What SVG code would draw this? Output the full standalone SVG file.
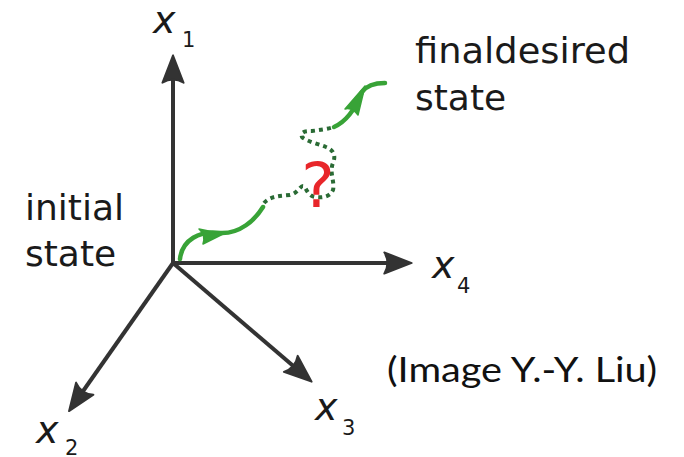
<svg xmlns="http://www.w3.org/2000/svg" width="684" height="457" viewBox="0 0 684 457">
<style>
.axis{stroke:#333333;stroke-width:4;fill:none;stroke-linecap:butt}
.lbl{font-family:"DejaVu Sans",sans-serif;font-size:36px;fill:#1a1a1a}
.var{font-family:"DejaVu Sans",sans-serif;font-style:italic;font-size:38px;fill:#1a1a1a}
.sub{font-family:"DejaVu Sans",sans-serif;font-size:21px;fill:#1a1a1a}
.green{stroke:#38a337;stroke-width:4.5;fill:none;stroke-linecap:round}
.dots{stroke:#2a6b35;stroke-width:4;fill:none;stroke-dasharray:4 4}
.ghead{fill:#38a337;stroke:#38a337;stroke-width:1.5;stroke-linejoin:round}
</style>
<defs>
<marker id="ah" markerUnits="userSpaceOnUse" markerWidth="40" markerHeight="30" viewBox="-20 -12 30 24" refX="0" refY="0" orient="auto" overflow="visible">
<path d="M7,0 L-15,-8.5 Q-10,0 -15,8.5 Z" fill="#333333" stroke="#333333" stroke-width="1.5" stroke-linejoin="round"/>
</marker>
</defs>
<g id="connectors">
<line class="axis" x1="173" y1="265" x2="173" y2="64" marker-end="url(#ah)"/>
<line class="axis" x1="171" y1="263" x2="403" y2="263" marker-end="url(#ah)"/>
<line class="axis" x1="173" y1="263" x2="74" y2="404" marker-end="url(#ah)"/>
<line class="axis" x1="173" y1="263" x2="305" y2="376" marker-end="url(#ah)"/>
</g>
<g id="trajectory">
<path class="green" d="M180,259 C182,240 200,230 220,233 C240,234 255,220 263,207"/>
<path class="ghead" d="M223,234 L199,229 Q206,235 203,244 Z"/>
<path class="dots" d="M264,203 C270,196 280,196 290,195 C298,193 300,186 303,186 C306,186 307,196 315,197 C322,198 330,197 333,190 C335,182 329,172 333,163 C336,156 334,150 326,147 C318,144 306,141 302,137 C300,132 305,131 312,131 C320,130 328,129 334,127"/>
<path class="green" d="M334,127 C345,122 355,110 362,92 C367,85 375,83 385,83"/>
<path class="ghead" d="M365,86 L345,109 Q352,107 358,115 Z"/>
</g>
<g id="question">
<text x="318" y="207" text-anchor="middle" font-family="DejaVu Sans, sans-serif" font-size="63" fill="#e8262a">?</text>
</g>
<g id="x1">
<text class="var" x="153" y="33">x</text><text class="sub" x="182" y="47">1</text>
</g>
<g id="x4">
<text class="var" x="432" y="278">x</text><text class="sub" x="457" y="293">4</text>
</g>
<g id="x2">
<text class="var" x="36" y="443">x</text><text class="sub" x="65" y="455">2</text>
</g>
<g id="x3">
<text class="var" x="315" y="420">x</text><text class="sub" x="342" y="435">3</text>
</g>
<g id="final">
<text class="lbl" x="415" y="63" textLength="215" lengthAdjust="spacingAndGlyphs">finaldesired</text>
<text class="lbl" x="415" y="110">state</text>
</g>
<g id="initial">
<text class="lbl" x="25" y="220">initial</text>
<text class="lbl" x="25" y="266">state</text>
</g>
<g id="credit">
<text x="387" y="382" font-family="Lato, 'Liberation Sans', sans-serif" font-size="35" fill="#111111" textLength="270" lengthAdjust="spacingAndGlyphs">(Image Y.-Y. Liu)</text>
</g>
</svg>
